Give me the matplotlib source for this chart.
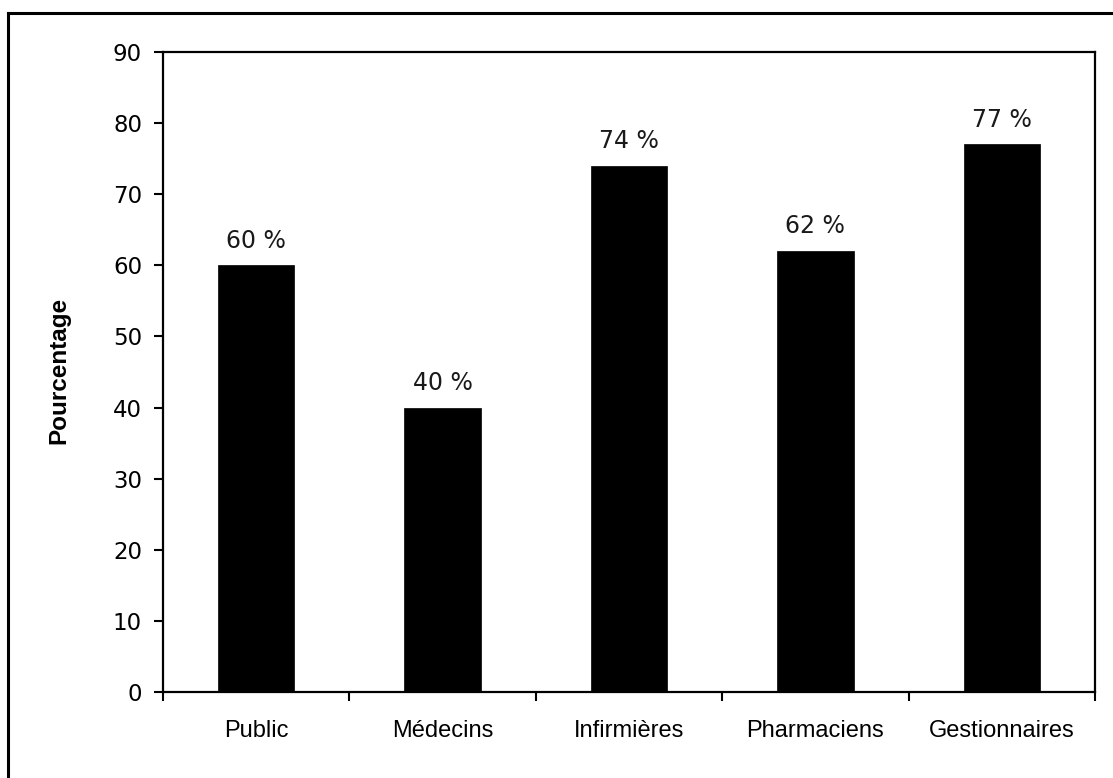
import matplotlib
matplotlib.use("Agg")
import matplotlib.pyplot as plt
from matplotlib.lines import Line2D

categories = ["Public", "Médecins", "Infirmières", "Pharmaciens", "Gestionnaires"]
values = [60, 40, 74, 62, 77]
y_ticks = [0, 10, 20, 30, 40, 50, 60, 70, 80, 90]

W, H = 1113, 778
fig = plt.figure(figsize=(W / 100, H / 100), dpi=100, facecolor="white")
ax = fig.add_axes([163 / W, 1 - 692 / H, (1095 - 163) / W, (692 - 52) / H])

x = list(range(len(categories)))
ax.bar(x, values, width=0.41, color="black", edgecolor="black", linewidth=0.5)

for xi, v in zip(x, values):
    ax.text(xi, v + 2.5, f"{v} %", ha="center", va="baseline",
            fontsize=17, family="DejaVu Sans", color="#1a1a1a")

ax.set_xlim(-0.5, len(categories) - 0.5)
ax.set_ylim(0, 90)
ax.set_yticks(y_ticks)
ax.set_yticklabels([str(t) for t in y_ticks], family="DejaVu Sans", fontsize=16.5)

# category ticks sit on the boundaries between bars, labels in the middle
ax.set_xticks([i - 0.5 for i in range(len(categories) + 1)])
ax.set_xticklabels([])
ax.set_xticks(x, minor=True)
ax.set_xticklabels(categories, minor=True, family="Liberation Sans", fontsize=17)
ax.tick_params(axis="x", which="minor", length=0, pad=20)
ax.tick_params(axis="x", which="major", length=6.5, width=1.5, direction="out")
ax.tick_params(axis="y", length=6.5, width=1.5, direction="out", pad=8.6)

for s in ax.spines.values():
    s.set_linewidth(1.6)
    s.set_color("black")

ax.set_ylabel("Pourcentage", family="Liberation Sans", fontsize=17.5, fontweight="bold")
ax.yaxis.set_label_coords((70 - 163) / (1095 - 163), (692 - 370) / (692 - 52))

# outer frame around the chart
fig.add_artist(Line2D([8 / W, 1.0], [1 - 13 / H, 1 - 13 / H], color="black", lw=2.2,
                      transform=fig.transFigure))
fig.add_artist(Line2D([8 / W, 8 / W], [1 - 13 / H, 0.0], color="black", lw=2.2,
                      transform=fig.transFigure))

fig.savefig("out.png", dpi=100, facecolor="white")
